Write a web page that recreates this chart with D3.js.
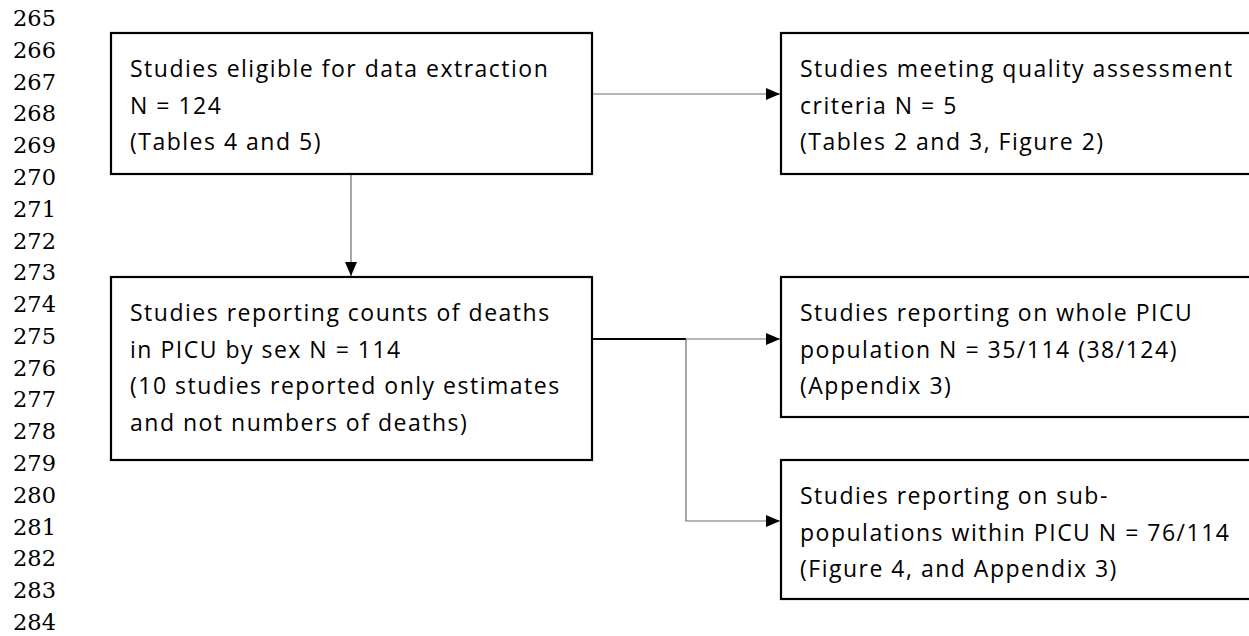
<!DOCTYPE html>
<html>
<head>
<meta charset="utf-8">
<script src="https://cdn.jsdelivr.net/npm/d3@7"></script>
<style>
  body { margin: 0; background: #fff; }
  svg { display: block; }
</style>
</head>
<body>
<div id="chart"></div>
<script>
// page line numbers down the left margin
var lineNumbers = d3.range(265, 285);

// box contents, one entry per line
var boxIds = ["eligible", "quality", "counts", "whole", "sub"];
var boxLines = [
  ["Studies eligible for data extraction", "N = 124", "(Tables 4 and 5)"],
  ["Studies meeting quality assessment", "criteria N = 5", "(Tables 2 and 3, Figure 2)"],
  ["Studies reporting counts of deaths", "in PICU by sex N = 114", "(10 studies reported only estimates", "and not numbers of deaths)"],
  ["Studies reporting on whole PICU", "population N = 35/114 (38/124)", "(Appendix 3)"],
  ["Studies reporting on sub-", "populations within PICU N = 76/114", "(Figure 4, and Appendix 3)"]
];

var width = 1249, height = 636;
var svg = d3.select("#chart").append("svg")
    .attr("width", width)
    .attr("height", height);

svg.append("defs").append("marker")
    .attr("id", "arrow")
    .attr("viewBox", "0 0 14 12")
    .attr("refX", 14).attr("refY", 6)
    .attr("markerWidth", 14).attr("markerHeight", 12)
    .attr("markerUnits", "userSpaceOnUse")
    .attr("orient", "auto")
  .append("path")
    .attr("d", "M0,0L14,6L0,12Z")
    .attr("fill", "#000");

// line numbers
var yLine = d3.scaleLinear().domain([265, 284]).range([26, 630]);
svg.append("g").selectAll("text")
  .data(lineNumbers)
  .join("text")
    .attr("x", 56)
    .attr("y", d => yLine(d))
    .attr("text-anchor", "end")
    .style("font-family", "'DejaVu Serif', serif")
    .style("font-size", "22.5px")
    .attr("fill", "#000")
    .text(d => d);

// layout of boxes
var col = d3.scaleOrdinal().domain(["left", "right"]).range([111, 781]);
var row = d3.scaleOrdinal().domain([0, 1, 2]).range([33, 277, 460]);
var boxW = { left: 481, right: 480 };
var boxPlace = {
  eligible: { c: "left",  r: 0, h: 141 },
  quality:  { c: "right", r: 0, h: 141 },
  counts:   { c: "left",  r: 1, h: 183 },
  whole:    { c: "right", r: 1, h: 140 },
  sub:      { c: "right", r: 2, h: 139 }
};
var boxes = boxIds.map(function(id, i) {
  var p = boxPlace[id];
  return { id: id, lines: boxLines[i], x: col(p.c), y: row(p.r), w: boxW[p.c], h: p.h };
});
var byId = {};
boxes.forEach(function(b) { byId[b.id] = b; });

var fontSize = 23, lineGap = 36.5;

// connectors first so boxes sit on top
var link = svg.append("g")
    .attr("fill", "none")
    .attr("stroke", "#6e6e6e")
    .attr("stroke-width", 1.2);

var e = byId.eligible, q = byId.quality, c = byId.counts, w = byId.whole, s = byId.sub;
var yTop = e.y + 61;
link.append("line")
    .attr("x1", e.x + e.w).attr("y1", yTop)
    .attr("x2", q.x - 1).attr("y2", yTop)
    .attr("marker-end", "url(#arrow)");
var xDown = e.x + 240;
link.append("line")
    .attr("x1", xDown).attr("y1", e.y + e.h)
    .attr("x2", xDown).attr("y2", c.y - 1)
    .attr("marker-end", "url(#arrow)");
var yMid = c.y + 62;
var xBranch = 686;
link.append("line")
    .attr("x1", c.x + c.w).attr("y1", yMid)
    .attr("x2", xBranch).attr("y2", yMid)
    .attr("stroke", "#000").attr("stroke-width", 2);
link.append("line")
    .attr("x1", xBranch).attr("y1", yMid)
    .attr("x2", w.x - 1).attr("y2", yMid)
    .attr("marker-end", "url(#arrow)");
var yLow = s.y + 61;
link.append("path")
    .attr("d", d3.line()([[xBranch, yMid], [xBranch, yLow], [s.x - 1, yLow]]))
    .attr("marker-end", "url(#arrow)");

// boxes
var box = svg.append("g").selectAll("g")
  .data(boxes)
  .join("g")
    .attr("transform", d => "translate(" + d.x + "," + d.y + ")");

box.append("rect")
    .attr("width", d => d.w)
    .attr("height", d => d.h)
    .attr("fill", "#fff")
    .attr("stroke", "#000")
    .attr("stroke-width", 2.2);

box.append("text")
    .style("font-family", "'Open Sans', Lato, sans-serif")
    .style("font-size", fontSize + "px")
    .style("letter-spacing", "1.5px")
    .attr("fill", "#000")
  .selectAll("tspan")
  .data(d => d.lines)
  .join("tspan")
    .attr("x", 19)
    .attr("y", (d, i) => 44 + i * lineGap)
    .text(d => d);
</script>
</body>
</html>
